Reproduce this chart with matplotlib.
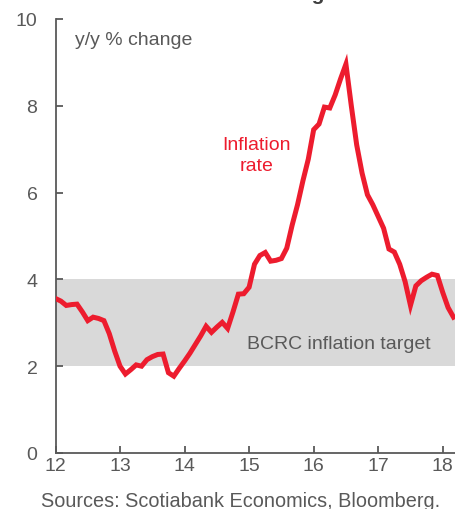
import matplotlib
matplotlib.use("Agg")
import matplotlib.pyplot as plt
import numpy as np

plt.rcParams['font.family'] = ['Liberation Sans', 'DejaVu Sans']

# Monthly inflation, Jan 2012 .. Mar 2018 (y/y % change)
start_year = 12
inflation = [
    3.56, 3.50, 3.40, 3.42, 3.43, 3.25, 3.05, 3.13, 3.10, 3.05, 2.75, 2.35,
    2.00, 1.82, 1.92, 2.03, 2.00, 2.15, 2.22, 2.27, 2.28, 1.85, 1.77, 1.95,
    2.12, 2.30, 2.50, 2.70, 2.92, 2.78, 2.90, 3.01, 2.87, 3.25, 3.66, 3.67,
    3.82, 4.35, 4.55, 4.62, 4.42, 4.44, 4.48, 4.72, 5.25, 5.72, 6.27, 6.77,
    7.45, 7.58, 7.97, 7.95, 8.25, 8.62, 8.96, 8.00, 7.10, 6.45, 5.95, 5.72,
    5.45, 5.18, 4.70, 4.63, 4.35, 3.95, 3.40, 3.85, 3.97, 4.05, 4.12, 4.09,
    3.70, 3.35, 3.13,
]
target_low, target_high = 2, 4
x_ticks = [12, 13, 14, 15, 16, 17, 18]
y_ticks = [0, 2, 4, 6, 8, 10]

x = start_year + np.arange(len(inflation)) / 12.0

fig = plt.figure(figsize=(4.55, 5.10), dpi=100)
ax = fig.add_axes([55.5/455, 1-454/510, 1-55.5/455, (454-20)/510])

gray = '#595959'
ax.axhspan(target_low, target_high, color='#d9d9d9', lw=0, zorder=1)
ax.plot(x, inflation, color='#ed1c2e', lw=3.6, solid_joinstyle='miter', zorder=3)

ax.set_xlim(12, 18.19)
ax.set_ylim(0, 10)
ax.set_xticks(x_ticks)
ax.set_xticklabels([str(t) for t in x_ticks])
ax.set_yticks(y_ticks)
ax.tick_params(direction='in', length=5, width=1.3, color=gray, labelcolor=gray, labelsize=14)
ax.tick_params(axis='y', pad=13)
ax.tick_params(axis='x', pad=3)
for s in ['top', 'right']:
    ax.spines[s].set_visible(False)
for s in ['left', 'bottom']:
    ax.spines[s].set_color(gray)
    ax.spines[s].set_linewidth(1.3)

ax.text(0.05, 0.952, 'y/y % change', transform=ax.transAxes, color=gray,
        fontsize=14, va='center', ha='left')
ax.text(15.12, 6.87, 'Inflation\nrate', color='#ed1c2e', fontsize=14,
        ha='center', va='center', linespacing=1.3)
ax.text(0.71, 0.252, 'BCRC inflation target', transform=ax.transAxes, color=gray,
        fontsize=14, ha='center', va='center')

fig.text(241/455, 1-502/510, 'Sources: Scotiabank Economics, Bloomberg.', color=gray,
         fontsize=14.3, ha='center', va='center')
fig.text(268/455, 1-0.5/510, 'Inflation Heading Back', color='#404040',
         fontsize=15, fontweight='bold', ha='center', va='baseline')

fig.savefig('out.png', dpi=100)
